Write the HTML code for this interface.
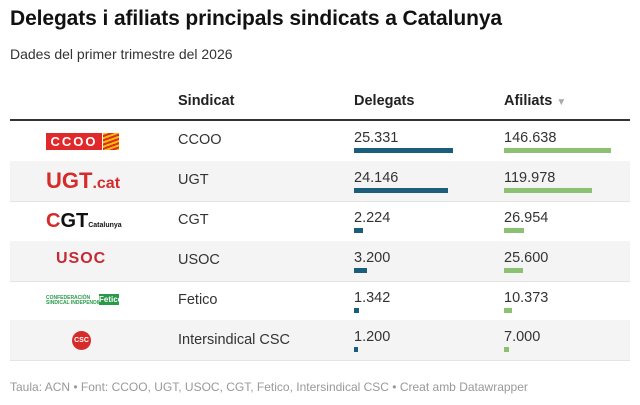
<!DOCTYPE html>
<html><head><meta charset="utf-8"><style>
body{margin:0;width:640px;height:405px;background:#fff;font-family:"Liberation Sans",sans-serif;color:#222;position:relative;overflow:hidden}
.a{position:absolute;white-space:nowrap}
.row{position:absolute;left:10px;width:620px;height:40px;border-bottom:1px solid #e4e4e4}
.g{background:#f4f4f4}
.t{font-size:14.5px;color:#333}
.bd{position:absolute;height:5px;background:#1b5e7b}
.bf{position:absolute;height:5px;background:#8cc173}
</style></head><body>
<div class="a" style="left:10px;top:7px;font-size:21px;font-weight:bold;color:#111;letter-spacing:-0.1px">Delegats i afiliats principals sindicats a Catalunya</div>
<div class="a" style="left:10px;top:46px;font-size:14px;color:#333">Dades del primer trimestre del 2026</div>
<div class="a" style="left:178px;top:93px;font-size:14.5px;font-weight:bold;color:#222">Sindicat</div>
<div class="a" style="left:354px;top:93px;font-size:14.5px;font-weight:bold;color:#222">Delegats</div>
<div class="a" style="left:504px;top:93px;font-size:14.5px;font-weight:bold;color:#222">Afiliats <span style="color:#aaa;font-size:10px">▼</span></div>
<div class="a" style="left:10px;top:119px;width:620px;height:2px;background:#333"></div>

<div class="row" style="top:121px"></div>
<div class="row g" style="top:161px"></div>
<div class="row" style="top:201px"></div>
<div class="row g" style="top:241px"></div>
<div class="row" style="top:281px"></div>
<div class="row g" style="top:320px"></div>

<!-- logos -->
<div class="a" style="left:46px;top:133px;width:56px;height:17px;background:#e0292a;color:#fff;font-weight:bold;font-size:13px;line-height:17px;text-align:center;letter-spacing:2px">CCOO</div>
<div class="a" style="left:103px;top:133px;width:16px;height:17px;background:repeating-linear-gradient(160deg,#f5c000 0 2px,#e0292a 2px 4px)"></div>
<div class="a" style="left:46px;top:168px;font-size:22px;font-weight:bold;color:#d62b2b">UGT<span style="font-size:16px">.cat</span></div>
<div class="a" style="left:46px;top:210px;font-size:20px;font-weight:bold;color:#111"><span style="color:#d62b2b">C</span>GT<span style="font-size:7px">Catalunya</span></div>
<div class="a" style="left:56px;top:250px;font-size:16px;font-weight:bold;color:#c42a35;letter-spacing:1px">USOC</div>
<div class="a" style="left:46px;top:296px;font-size:5px;font-weight:bold;color:#2a9a4a;line-height:5px">CONFEDERACIÓN<br>SINDICAL INDEPENDIENTE</div>
<div class="a" style="left:99px;top:294px;width:20px;height:11px;background:#2a9a4a;color:#fff;font-size:8px;font-weight:bold;text-align:center;line-height:11px">Fetico</div>
<div class="a" style="left:72px;top:331px;width:19px;height:19px;border-radius:50%;background:#d62b2b;color:#fff;font-size:7px;font-weight:bold;text-align:center;line-height:19px">CSC</div>

<!-- names -->
<div class="a t" style="left:178px;top:132px">CCOO</div>
<div class="a t" style="left:178px;top:172px">UGT</div>
<div class="a t" style="left:178px;top:212px">CGT</div>
<div class="a t" style="left:178px;top:252px">USOC</div>
<div class="a t" style="left:178px;top:292px">Fetico</div>
<div class="a t" style="left:178px;top:332px">Intersindical CSC</div>

<!-- delegats -->
<div class="a t" style="left:354px;top:130px">25.331</div><div class="bd" style="left:354px;top:148px;width:99px"></div>
<div class="a t" style="left:354px;top:170px">24.146</div><div class="bd" style="left:354px;top:188px;width:94px"></div>
<div class="a t" style="left:354px;top:210px">2.224</div><div class="bd" style="left:354px;top:228px;width:9px"></div>
<div class="a t" style="left:354px;top:250px">3.200</div><div class="bd" style="left:354px;top:268px;width:13px"></div>
<div class="a t" style="left:354px;top:290px">1.342</div><div class="bd" style="left:354px;top:308px;width:5px"></div>
<div class="a t" style="left:354px;top:329px">1.200</div><div class="bd" style="left:354px;top:347px;width:4px"></div>

<!-- afiliats -->
<div class="a t" style="left:504px;top:130px">146.638</div><div class="bf" style="left:504px;top:148px;width:107px"></div>
<div class="a t" style="left:504px;top:170px">119.978</div><div class="bf" style="left:504px;top:188px;width:88px"></div>
<div class="a t" style="left:504px;top:210px">26.954</div><div class="bf" style="left:504px;top:228px;width:20px"></div>
<div class="a t" style="left:504px;top:250px">25.600</div><div class="bf" style="left:504px;top:268px;width:19px"></div>
<div class="a t" style="left:504px;top:290px">10.373</div><div class="bf" style="left:504px;top:308px;width:8px"></div>
<div class="a t" style="left:504px;top:329px">7.000</div><div class="bf" style="left:504px;top:347px;width:5px"></div>

<div class="a" style="left:10px;top:380px;font-size:12px;color:#999">Taula: ACN • Font: CCOO, UGT, USOC, CGT, Fetico, Intersindical CSC • Creat amb Datawrapper</div>
</body></html>
